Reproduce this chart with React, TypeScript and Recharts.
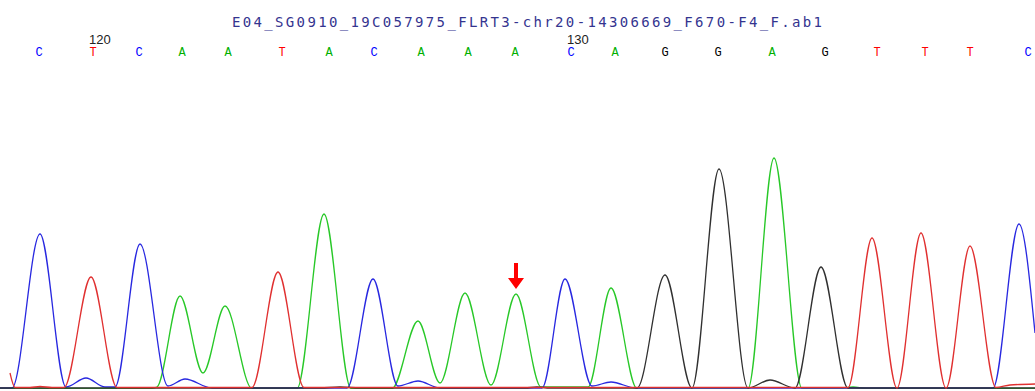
import React from "react";
import { LineChart, Line, XAxis, YAxis, ReferenceDot } from "recharts";

const title = "E04_SG0910_19C057975_FLRT3-chr20-14306669_F670-F4_F.ab1";

// base calls and where they sit on the scan axis
const baseCalls = ["C", "T", "C", "A", "A", "T", "A", "C", "A", "A", "A", "C", "A", "G", "G", "A", "G", "T", "T", "T", "C"];
const basePositions = [39, 93, 139, 182, 228, 282, 329, 374, 421, 468, 515, 571, 615, 665, 718, 772, 825, 877, 925, 970, 1028];
const firstBaseNumber = 119;

// traces: [scan, signal]
const traceA = [
  [0, 0.5], [150, 0.5], [157, 2], [180, 93], [203, 16], [225, 83], [252, 0.5], [297, 0.5], [324, 175], [351, 0.5],
  [392, 0.5], [418, 68], [440, 6], [465, 96], [491, 4], [516, 95], [541, 2], [588, 2], [611, 101], [637, 0.5],
  [748, 0.5], [774, 231], [802, 0.5], [840, 0.5], [853, 2], [866, 0.5], [1035, 0.5],
];
const traceC = [
  [0, 1], [12, 1], [40, 155], [66, 2], [86, 11], [105, 2], [115, 2], [140, 145], [168, 3], [185, 10], [212, 1],
  [347, 1], [373, 110], [398, 3], [418, 8], [440, 1], [542, 1], [565, 110], [592, 3], [611, 7], [636, 1],
  [993, 1], [1019, 165], [1035, 56],
];
const traceG = [
  [0, 1], [320, 1], [340, 2], [360, 1], [525, 1], [537, 2], [550, 1], [637, 1], [665, 114], [692, 1],
  [719, 220], [748, 1], [770, 9], [795, 1], [821, 122], [848, 1], [1035, 1],
];
const traceT = [
  [10, 16], [15, 1.5], [30, 1.5], [40, 2.5], [52, 1.5], [64, 1.5], [91, 112], [117, 1.5], [252, 1.5], [278, 117], [304, 1.5],
  [848, 1.5], [872, 151], [897, 1], [921, 156], [946, 1], [970, 143], [996, 1.5], [1010, 4], [1035, 5],
];

const arrowScan = 516;
const arrowSignal = 95;

const baseColors: Record<string, string> = { A: "#00b000", C: "#0000ff", G: "#000000", T: "#ff0000" };

const toRows = (t: number[][]) => t.map(([x, v]) => ({ x, v }));

const BaseTick = (props: any) => {
  const { x, payload } = props;
  const i = basePositions.indexOf(payload.value);
  if (i < 0) return null;
  const letter = baseCalls[i];
  const num = firstBaseNumber + i;
  return (
    <g>
      {num % 10 === 0 && (
        <text x={x - 4} y={44} fontSize={13} fontFamily="Liberation Sans, Arial" fill="#222" textAnchor="start">
          {num}
        </text>
      )}
      <text x={x} y={56} fontSize={12} fontFamily="Liberation Mono, monospace" fill={baseColors[letter]} textAnchor="middle">
        {letter}
      </text>
    </g>
  );
};

const Arrow = (props: any) => {
  const { cx, cy } = props;
  return (
    <polygon
      fill="#ff0000"
      points={`${cx - 2},${cy - 31} ${cx + 2},${cy - 31} ${cx + 2},${cy - 16} ${cx + 8},${cy - 16} ${cx},${cy - 5} ${cx - 8},${cy - 16} ${cx - 2},${cy - 16}`}
    />
  );
};

export default function App() {
  return (
    <div style={{ position: "absolute", left: 0, top: 0, width: 1035, height: 391, background: "#fff" }}>
      <svg width={1035} height={40} style={{ position: "absolute", left: 0, top: 0 }}>
        <text x={232} y={27} fontSize={14} fontFamily="DejaVu Sans Mono, monospace" fill="#34348f" textLength={590} lengthAdjust="spacing">
          {title}
        </text>
      </svg>
      <LineChart width={1035} height={391} margin={{ top: 0, right: 0, bottom: 2, left: 0 }}>
        <XAxis
          dataKey="x"
          type="number"
          orientation="top"
          domain={[0, 1035]}
          ticks={basePositions}
          interval={0}
          height={60}
          axisLine={false}
          tickLine={false}
          tick={BaseTick}
          allowDataOverflow
        />
        <YAxis type="number" domain={[0, 329]} hide allowDataOverflow />
        <Line data={toRows(traceA)} dataKey="v" type="monotone" stroke="#28c828" strokeWidth={1.3} dot={false} isAnimationActive={false} />
        <Line data={toRows(traceC)} dataKey="v" type="monotone" stroke="#2828e0" strokeWidth={1.3} dot={false} isAnimationActive={false} />
        <Line data={toRows(traceG)} dataKey="v" type="monotone" stroke="#303030" strokeWidth={1.3} dot={false} isAnimationActive={false} />
        <Line data={toRows(traceT)} dataKey="v" type="monotone" stroke="#e03030" strokeWidth={1.3} dot={false} isAnimationActive={false} />
        <ReferenceDot x={arrowScan} y={arrowSignal} shape={Arrow} ifOverflow="visible" />
      </LineChart>
    </div>
  );
}
